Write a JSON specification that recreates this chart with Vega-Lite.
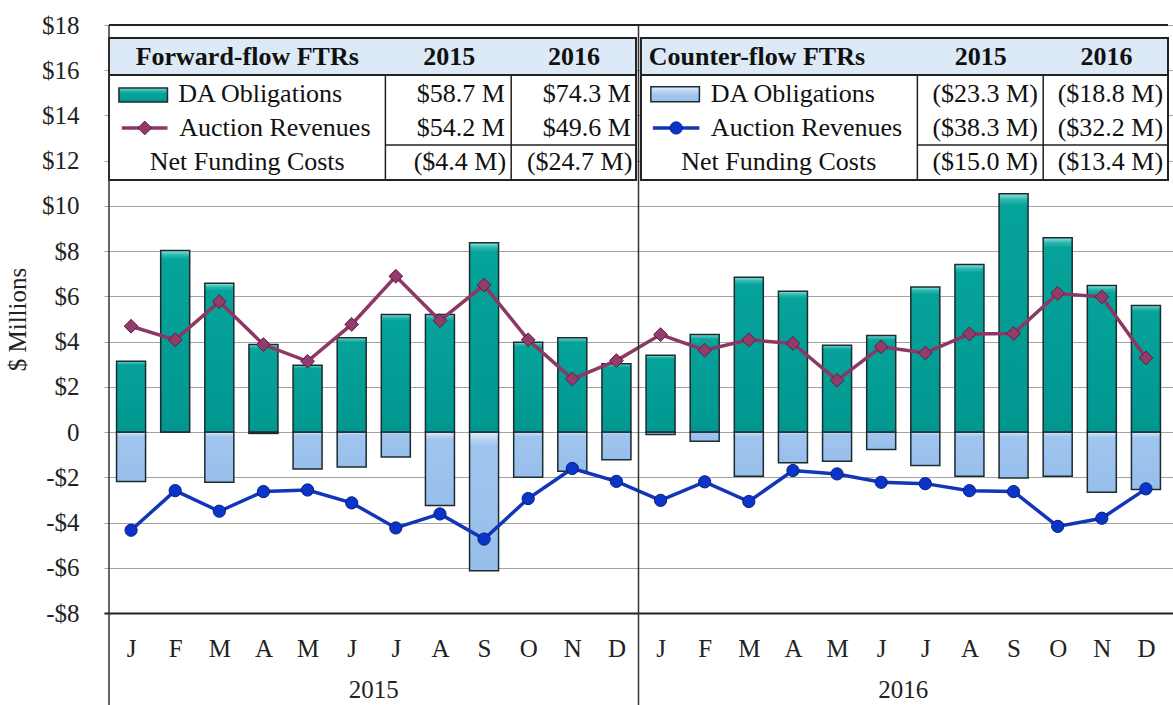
{
  "$schema": "https://vega.github.io/schema/vega-lite/v6.json",
  "width": 1069,
  "height": 588,
  "autosize": {"type": "none"},
  "padding": {"left": 104, "top": 25, "right": 0, "bottom": 92},
  "background": "white",
  "config": {"view": {"stroke": null}, "font": "Liberation Serif"},
  "datasets": {
    "monthly": [
      {"t": 1, "year": 2015, "month": "J", "fwdDA": 3.13, "fwdAR": 4.68, "ctrDA": -2.18, "ctrAR": -4.34},
      {"t": 2, "year": 2015, "month": "F", "fwdDA": 8.03, "fwdAR": 4.08, "ctrDA": 0, "ctrAR": -2.59},
      {"t": 3, "year": 2015, "month": "M", "fwdDA": 6.58, "fwdAR": 5.77, "ctrDA": -2.22, "ctrAR": -3.5},
      {"t": 4, "year": 2015, "month": "A", "fwdDA": 3.87, "fwdAR": 3.87, "ctrDA": -0.06, "ctrAR": -2.63},
      {"t": 5, "year": 2015, "month": "M", "fwdDA": 2.96, "fwdAR": 3.13, "ctrDA": -1.63, "ctrAR": -2.56},
      {"t": 6, "year": 2015, "month": "J", "fwdDA": 4.17, "fwdAR": 4.76, "ctrDA": -1.54, "ctrAR": -3.13},
      {"t": 7, "year": 2015, "month": "J", "fwdDA": 5.2, "fwdAR": 6.89, "ctrDA": -1.1, "ctrAR": -4.24},
      {"t": 8, "year": 2015, "month": "A", "fwdDA": 5.2, "fwdAR": 4.93, "ctrDA": -3.25, "ctrAR": -3.62},
      {"t": 9, "year": 2015, "month": "S", "fwdDA": 8.37, "fwdAR": 6.5, "ctrDA": -6.13, "ctrAR": -4.73},
      {"t": 10, "year": 2015, "month": "O", "fwdDA": 3.97, "fwdAR": 4.08, "ctrDA": -2.0, "ctrAR": -2.94},
      {"t": 11, "year": 2015, "month": "N", "fwdDA": 4.17, "fwdAR": 2.35, "ctrDA": -1.73, "ctrAR": -1.61},
      {"t": 12, "year": 2015, "month": "D", "fwdDA": 3.02, "fwdAR": 3.16, "ctrDA": -1.22, "ctrAR": -2.18},
      {"t": 13, "year": 2016, "month": "J", "fwdDA": 3.4, "fwdAR": 4.31, "ctrDA": -0.11, "ctrAR": -3.02},
      {"t": 14, "year": 2016, "month": "F", "fwdDA": 4.31, "fwdAR": 3.62, "ctrDA": -0.41, "ctrAR": -2.2},
      {"t": 15, "year": 2016, "month": "M", "fwdDA": 6.85, "fwdAR": 4.08, "ctrDA": -1.95, "ctrAR": -3.07},
      {"t": 16, "year": 2016, "month": "A", "fwdDA": 6.23, "fwdAR": 3.92, "ctrDA": -1.36, "ctrAR": -1.7},
      {"t": 17, "year": 2016, "month": "M", "fwdDA": 3.84, "fwdAR": 2.29, "ctrDA": -1.29, "ctrAR": -1.85},
      {"t": 18, "year": 2016, "month": "J", "fwdDA": 4.27, "fwdAR": 3.77, "ctrDA": -0.77, "ctrAR": -2.22},
      {"t": 19, "year": 2016, "month": "J", "fwdDA": 6.42, "fwdAR": 3.5, "ctrDA": -1.48, "ctrAR": -2.28},
      {"t": 20, "year": 2016, "month": "A", "fwdDA": 7.41, "fwdAR": 4.34, "ctrDA": -1.95, "ctrAR": -2.59},
      {"t": 21, "year": 2016, "month": "S", "fwdDA": 10.54, "fwdAR": 4.36, "ctrDA": -2.03, "ctrAR": -2.63},
      {"t": 22, "year": 2016, "month": "O", "fwdDA": 8.59, "fwdAR": 6.13, "ctrDA": -1.95, "ctrAR": -4.17},
      {"t": 23, "year": 2016, "month": "N", "fwdDA": 6.48, "fwdAR": 5.98, "ctrDA": -2.66, "ctrAR": -3.81},
      {"t": 24, "year": 2016, "month": "D", "fwdDA": 5.6, "fwdAR": 3.28, "ctrDA": -2.54, "ctrAR": -2.51}
    ],
    "tables": [
      {"tbl": "Forward-flow", "x0": 0.5, "x1": 12.444},
      {"tbl": "Counter-flow", "x0": 12.556, "x1": 24.5}
    ],
    "innerV": [{"x": 6.764}, {"x": 9.615}, {"x": 18.82}, {"x": 21.672}],
    "innerH": [{"x0": 6.764, "x1": 12.444}, {"x0": 18.82, "x1": 24.5}],
    "headers": [
      {"text": "Forward-flow FTRs", "x": 3.632},
      {"text": "2015", "x": 8.212},
      {"text": "2016", "x": 11.037},
      {"text": "Counter-flow FTRs", "x": 15.183},
      {"text": "2015", "x": 20.257},
      {"text": "2016", "x": 23.108}
    ],
    "labels": [
      {"text": "DA Obligations", "x": 2.07, "y": 14.61},
      {"text": "Auction Revenues", "x": 2.09, "y": 13.093},
      {"text": "DA Obligations", "x": 14.14, "y": 14.61},
      {"text": "Auction Revenues", "x": 14.14, "y": 13.093}
    ],
    "net": [
      {"text": "Net Funding Costs", "x": 3.632},
      {"text": "Net Funding Costs", "x": 15.68}
    ],
    "cells": [
      {"text": "$58.7 M", "x": 9.47, "y": 14.61},
      {"text": "$74.3 M", "x": 12.33, "y": 14.61},
      {"text": "$54.2 M", "x": 9.47, "y": 13.093},
      {"text": "$49.6 M", "x": 12.33, "y": 13.093},
      {"text": "($4.4 M)", "x": 9.5, "y": 11.589},
      {"text": "($24.7 M)", "x": 12.36, "y": 11.589},
      {"text": "($23.3 M)", "x": 21.55, "y": 14.61},
      {"text": "($18.8 M)", "x": 24.39, "y": 14.61},
      {"text": "($38.3 M)", "x": 21.55, "y": 13.093},
      {"text": "($32.2 M)", "x": 24.39, "y": 13.093},
      {"text": "($15.0 M)", "x": 21.55, "y": 11.589},
      {"text": "($13.4 M)", "x": 24.39, "y": 11.589}
    ],
    "dividers": [{"x": 0.5}, {"x": 12.5}],
    "years": [{"year": "2015", "x": 6.5}, {"year": "2016", "x": 18.5}],
    "one": [{}]
  },
  "layer": [
    {
      "data": {"name": "monthly"},
      "mark": {
        "type": "bar", "width": 29, "stroke": "#1c2b2e", "strokeWidth": 1.5,
        "fill": {"gradient": "linear", "x1": 0, "y1": 0, "x2": 0, "y2": 1,
          "stops": [{"offset": 0, "color": "#e3f0fc"}, {"offset": 0.05, "color": "#b9d5f4"}, {"offset": 0.1, "color": "#a0c5ef"}, {"offset": 1, "color": "#97bfeb"}]}
      },
      "encoding": {
        "x": {
          "field": "t", "type": "quantitative",
          "scale": {"domain": [0.5, 24.5], "nice": false, "zero": false},
          "axis": {
            "values": [1,2,3,4,5,6,7,8,9,10,11,12,13,14,15,16,17,18,19,20,21,22,23,24],
            "labelExpr": "substring('JFMAMJJASOND', (datum.value - 1) % 12, (datum.value - 1) % 12 + 1)",
            "title": null, "grid": false, "ticks": false, "domain": true,
            "domainColor": "#222222", "domainWidth": 2,
            "labelFont": "Liberation Serif", "labelFontSize": 25, "labelColor": "#222222",
            "labelPadding": 23, "labelFlush": false, "labelOverlap": false
          }
        },
        "y": {
          "field": "ctrDA", "type": "quantitative",
          "scale": {"domain": [-8, 18], "nice": false, "zero": false},
          "axis": {
            "values": [-8,-6,-4,-2,0,2,4,6,8,10,12,14,16,18],
            "labelExpr": "datum.value > 0 ? '$' + datum.value : (datum.value < 0 ? '-$' + abs(datum.value) : '0')",
            "title": "$ Millions", "grid": true, "gridColor": "#a3a3a3", "gridWidth": 1,
            "ticks": false, "domain": false,
            "labelFont": "Liberation Serif", "labelFontSize": 25, "labelColor": "#222222",
            "labelPadding": 25, "labelFlush": false, "labelOverlap": false,
            "titleFont": "Liberation Serif", "titleFontSize": 25, "titleFontWeight": "normal",
            "titleColor": "#222222", "titlePadding": 11
          }
        }
      }
    },
    {
      "data": {"name": "monthly"},
      "mark": {
        "type": "bar", "width": 29, "stroke": "#1c2b2e", "strokeWidth": 1.5,
        "fill": {"gradient": "linear", "x1": 0, "y1": 0, "x2": 0, "y2": 1,
          "stops": [{"offset": 0, "color": "#8fe4df"}, {"offset": 0.025, "color": "#2db8b0"}, {"offset": 0.05, "color": "#06a39b"}, {"offset": 1, "color": "#009790"}]}
      },
      "encoding": {
        "x": {"field": "t", "type": "quantitative"},
        "y": {"field": "fwdDA", "type": "quantitative"}
      }
    },
    {
      "data": {"name": "monthly"},
      "mark": {"type": "line", "color": "#8c3764", "strokeWidth": 3.5},
      "encoding": {
        "x": {"field": "t", "type": "quantitative"},
        "y": {"field": "fwdAR", "type": "quantitative"}
      }
    },
    {
      "data": {"name": "monthly"},
      "mark": {"type": "point", "shape": "diamond", "size": 190, "filled": true, "fill": "#933b6a", "stroke": "#5c1f42", "strokeWidth": 1, "opacity": 1},
      "encoding": {
        "x": {"field": "t", "type": "quantitative"},
        "y": {"field": "fwdAR", "type": "quantitative"}
      }
    },
    {
      "data": {"name": "monthly"},
      "mark": {"type": "line", "color": "#1236b8", "strokeWidth": 3.5},
      "encoding": {
        "x": {"field": "t", "type": "quantitative"},
        "y": {"field": "ctrAR", "type": "quantitative"}
      }
    },
    {
      "data": {"name": "monthly"},
      "mark": {"type": "point", "shape": "circle", "size": 150, "filled": true, "fill": "#0b35c9", "stroke": "#08207a", "strokeWidth": 1, "opacity": 1},
      "encoding": {
        "x": {"field": "t", "type": "quantitative"},
        "y": {"field": "ctrAR", "type": "quantitative"}
      }
    },
    {
      "data": {"name": "tables"},
      "mark": {"type": "rect", "fill": "white", "stroke": "#222222", "strokeWidth": 2},
      "encoding": {
        "x": {"field": "x0", "type": "quantitative"},
        "x2": {"field": "x1"},
        "y": {"datum": 17.427},
        "y2": {"datum": 11.146}
      }
    },
    {
      "data": {"name": "tables"},
      "mark": {"type": "rect", "fill": "#dce9f6", "stroke": "#222222", "strokeWidth": 2},
      "encoding": {
        "x": {"field": "x0", "type": "quantitative"},
        "x2": {"field": "x1"},
        "y": {"datum": 17.427},
        "y2": {"datum": 15.79}
      }
    },
    {
      "data": {"name": "innerV"},
      "mark": {"type": "rule", "color": "#222222", "strokeWidth": 1.5},
      "encoding": {
        "x": {"field": "x", "type": "quantitative"},
        "y": {"datum": 15.79},
        "y2": {"datum": 11.146}
      }
    },
    {
      "data": {"name": "innerH"},
      "mark": {"type": "rule", "color": "#222222", "strokeWidth": 1.5},
      "encoding": {
        "x": {"field": "x0", "type": "quantitative"},
        "x2": {"field": "x1"},
        "y": {"datum": 12.694}
      }
    },
    {
      "data": {"name": "one"},
      "mark": {
        "type": "rect", "stroke": "#1c2b2e", "strokeWidth": 1.5,
        "fill": {"gradient": "linear", "x1": 0, "y1": 0, "x2": 0, "y2": 1,
          "stops": [{"offset": 0, "color": "#8fe4df"}, {"offset": 0.2, "color": "#2db8b0"}, {"offset": 0.4, "color": "#06a39b"}, {"offset": 1, "color": "#009790"}]}
      },
      "encoding": {
        "x": {"datum": 0.725}, "x2": {"datum": 1.825},
        "y": {"datum": 15.216}, "y2": {"datum": 14.597}
      }
    },
    {
      "data": {"name": "one"},
      "mark": {
        "type": "rect", "stroke": "#1c2b2e", "strokeWidth": 1.5,
        "fill": {"gradient": "linear", "x1": 0, "y1": 0, "x2": 0, "y2": 1,
          "stops": [{"offset": 0, "color": "#e3f0fc"}, {"offset": 0.3, "color": "#b9d5f4"}, {"offset": 0.6, "color": "#a0c5ef"}, {"offset": 1, "color": "#97bfeb"}]}
      },
      "encoding": {
        "x": {"datum": 12.78}, "x2": {"datum": 13.88},
        "y": {"datum": 15.273}, "y2": {"datum": 14.61}
      }
    },
    {
      "data": {"name": "one"},
      "mark": {"type": "rule", "color": "#8c3764", "strokeWidth": 3.5},
      "encoding": {
        "x": {"datum": 0.792}, "x2": {"datum": 1.825},
        "y": {"datum": 13.447}
      }
    },
    {
      "data": {"name": "one"},
      "mark": {"type": "point", "shape": "diamond", "size": 190, "filled": true, "fill": "#933b6a", "stroke": "#5c1f42", "strokeWidth": 1, "opacity": 1},
      "encoding": {
        "x": {"datum": 1.31},
        "y": {"datum": 13.447}
      }
    },
    {
      "data": {"name": "one"},
      "mark": {"type": "rule", "color": "#1236b8", "strokeWidth": 3.5},
      "encoding": {
        "x": {"datum": 12.826}, "x2": {"datum": 13.88},
        "y": {"datum": 13.447}
      }
    },
    {
      "data": {"name": "one"},
      "mark": {"type": "point", "shape": "circle", "size": 150, "filled": true, "fill": "#0b35c9", "stroke": "#08207a", "strokeWidth": 1, "opacity": 1},
      "encoding": {
        "x": {"datum": 13.353},
        "y": {"datum": 13.447}
      }
    },
    {
      "data": {"name": "headers"},
      "mark": {"type": "text", "font": "Liberation Serif", "fontSize": 26, "fontWeight": "bold", "align": "center", "baseline": "alphabetic", "color": "#111111"},
      "encoding": {
        "x": {"field": "x", "type": "quantitative"},
        "y": {"datum": 16.232},
        "text": {"field": "text"}
      }
    },
    {
      "data": {"name": "labels"},
      "mark": {"type": "text", "font": "Liberation Serif", "fontSize": 26, "align": "left", "baseline": "alphabetic", "color": "#111111"},
      "encoding": {
        "x": {"field": "x", "type": "quantitative"},
        "y": {"field": "y", "type": "quantitative"},
        "text": {"field": "text"}
      }
    },
    {
      "data": {"name": "net"},
      "mark": {"type": "text", "font": "Liberation Serif", "fontSize": 26, "align": "center", "baseline": "alphabetic", "color": "#111111"},
      "encoding": {
        "x": {"field": "x", "type": "quantitative"},
        "y": {"datum": 11.589},
        "text": {"field": "text"}
      }
    },
    {
      "data": {"name": "cells"},
      "mark": {"type": "text", "font": "Liberation Serif", "fontSize": 26, "align": "right", "baseline": "alphabetic", "color": "#111111"},
      "encoding": {
        "x": {"field": "x", "type": "quantitative"},
        "y": {"field": "y", "type": "quantitative"},
        "text": {"field": "text"}
      }
    },
    {
      "data": {"name": "one"},
      "mark": {"type": "rule", "color": "#222222", "strokeWidth": 2},
      "encoding": {
        "x": {"datum": 0.5}, "x2": {"datum": 24.5},
        "y": {"datum": 18}
      }
    },
    {
      "data": {"name": "dividers"},
      "mark": {"type": "rule", "color": "#333333", "strokeWidth": 1.5},
      "encoding": {
        "x": {"field": "x", "type": "quantitative"},
        "y": {"datum": 18},
        "y2": {"datum": -12.6}
      }
    },
    {
      "data": {"name": "years"},
      "mark": {"type": "text", "font": "Liberation Serif", "fontSize": 25, "align": "center", "baseline": "middle", "color": "#222222"},
      "encoding": {
        "x": {"field": "x", "type": "quantitative"},
        "y": {"datum": -11.4},
        "text": {"field": "year"}
      }
    }
  ]
}
